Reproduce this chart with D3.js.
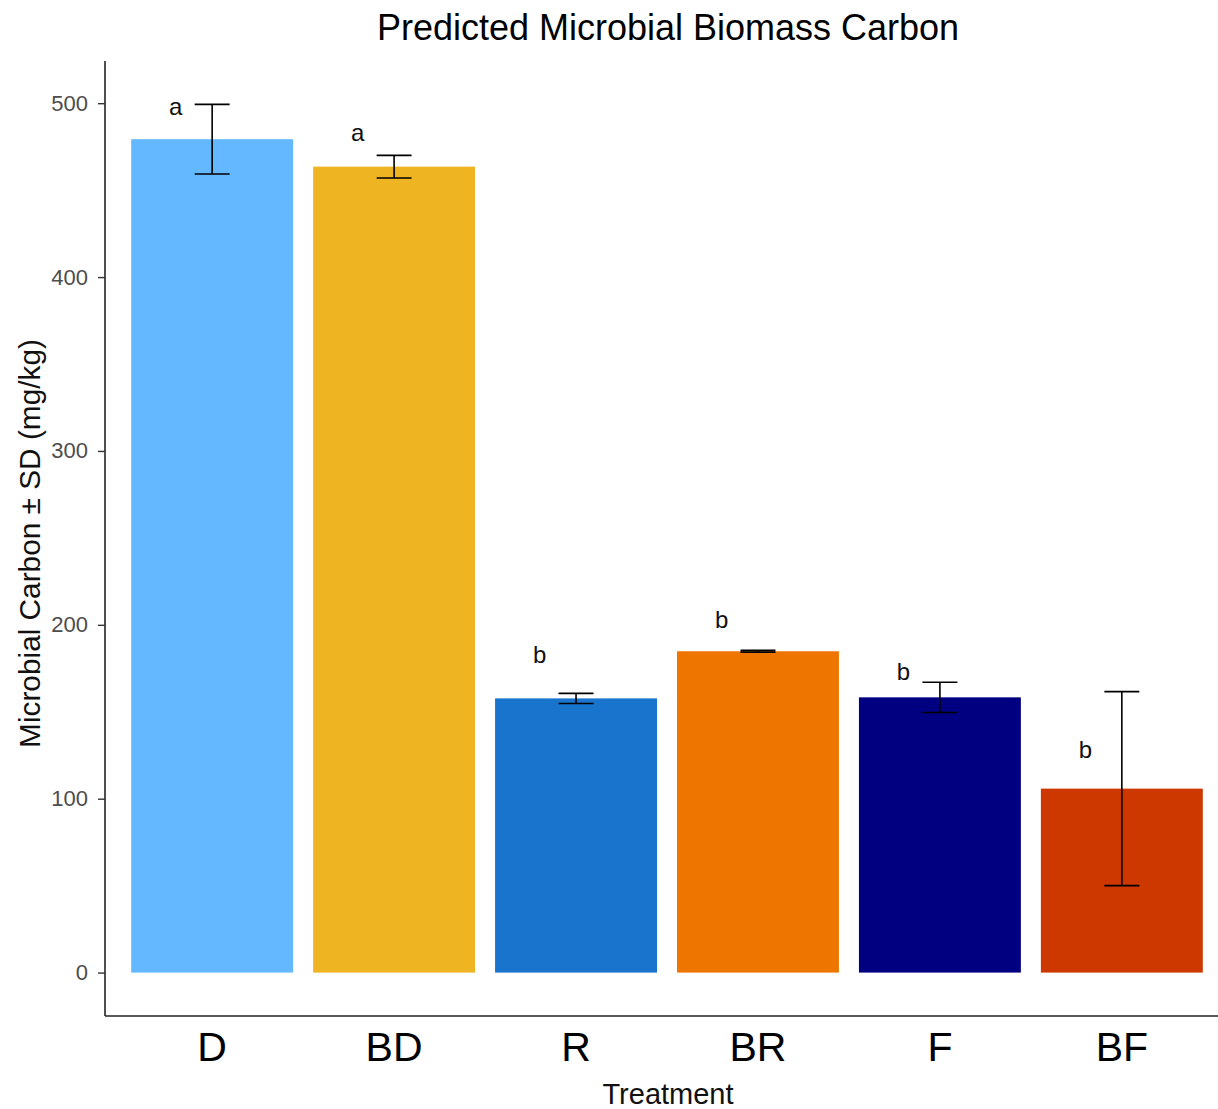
<!DOCTYPE html>
<html>
<head>
<meta charset="utf-8">
<script src="https://cdn.jsdelivr.net/npm/d3@7"></script>
<style>
	body { margin: 0; background: #fff; }
	text { font-family: "Liberation Sans", Arial, sans-serif; }
</style>
</head>
<body>
<svg id="chart"></svg>
<script>
// Values
var treatments = ['D', 'BD', 'R', 'BR', 'F', 'BF'];
var means = [479.3, 463.5, 157.7, 184.8, 158.3, 105.8];
var sds = [20.0, 6.5, 2.9, 0.5, 8.7, 55.8];
var letters = ['a', 'a', 'b', 'b', 'b', 'b'];
var letterY = [498, 483, 183, 203, 173, 128];
var colors = ['#63B8FF', '#EEB422', '#1874CD', '#EE7600', '#000080', '#CD3700'];
var yTicks = [0, 100, 200, 300, 400, 500];

var width = 1218, height = 1109;
var mLeft = 105, mRight = 1231, mTop = 61, mBottom = 1016;

var svg = d3.select('#chart')
	.attr('width', width)
	.attr('height', height);

var x = d3.scaleBand()
	.domain(treatments)
	.range([mLeft - 2, mRight])
	.paddingInner(0.11)
	.paddingOuter(0.155);

// ggplot style 5% expansion round the data
var yMax = d3.max(means.map(function(m, i) { return m + sds[i]; }));
var pad = yMax * 0.05;
var y = d3.scaleLinear()
	.domain([-pad, yMax + pad])
	.range([mBottom, mTop]);

var data = treatments.map(function(t, i) {
	return { name: t, mean: means[i], sd: sds[i], letter: letters[i], ly: letterY[i], color: colors[i] };
});

// bars
svg.selectAll('.bar').data(data)
	.enter()
	.append('rect')
	.attr('class', 'bar')
	.attr('x', function(d) { return x(d.name); })
	.attr('width', x.bandwidth())
	.attr('y', function(d) { return y(d.mean); })
	.attr('height', function(d) { return y(0) - y(d.mean); })
	.attr('fill', function(d) { return d.color; });

// error bars
var capW = x.bandwidth() * 0.216;
var err = svg.selectAll('.err').data(data)
	.enter()
	.append('g')
	.attr('class', 'err')
	.attr('stroke', '#000')
	.attr('stroke-width', 1.6)
	.attr('transform', function(d) {
		return 'translate(' + (x(d.name) + x.bandwidth() / 2) + ',0)';
	});

err.append('line')
	.attr('y1', function(d) { return y(d.mean + d.sd); })
	.attr('y2', function(d) { return y(d.mean - d.sd); });
err.append('line')
	.attr('x1', -capW / 2).attr('x2', capW / 2)
	.attr('y1', function(d) { return y(d.mean + d.sd); })
	.attr('y2', function(d) { return y(d.mean + d.sd); });
err.append('line')
	.attr('x1', -capW / 2).attr('x2', capW / 2)
	.attr('y1', function(d) { return y(d.mean - d.sd); })
	.attr('y2', function(d) { return y(d.mean - d.sd); });

// significance letters, nudged left of centre
svg.selectAll('.letter').data(data)
	.enter()
	.append('text')
	.attr('class', 'letter')
	.attr('x', function(d) { return x(d.name) + x.bandwidth() / 2 - x.step() * 0.2; })
	.attr('y', function(d) { return y(d.ly); })
	.attr('dy', '0.35em')
	.attr('text-anchor', 'middle')
	.attr('font-size', 24)
	.attr('fill', '#111')
	.text(function(d) { return d.letter; });

// y axis
var yAxis = svg.append('g')
	.attr('transform', 'translate(' + mLeft + ',0)')
	.call(d3.axisLeft(y).tickValues(yTicks).tickSize(7).tickPadding(10));
yAxis.select('.domain').attr('d', 'M0,' + mTop + 'V' + mBottom).attr('stroke', '#222').attr('stroke-width', 1.6);
yAxis.selectAll('.tick line').attr('stroke', '#333').attr('stroke-width', 1.4);
yAxis.selectAll('.tick text').attr('font-size', 22).attr('fill', '#4D4D4D')
	.style('font-family', '"Liberation Sans", Arial, sans-serif');

// x axis
var xAxis = svg.append('g')
	.attr('transform', 'translate(0,' + mBottom + ')')
	.call(d3.axisBottom(x).tickSize(0).tickPadding(16));
xAxis.select('.domain').attr('d', 'M' + mLeft + ',0H' + width).attr('stroke', '#222').attr('stroke-width', 1.6);
xAxis.selectAll('.tick text').attr('font-size', 41).attr('fill', '#000')
	.attr('dy', '0.71em')
	.style('font-family', '"Liberation Sans", Arial, sans-serif');

// titles
svg.append('text')
	.attr('x', (mLeft + mRight) / 2)
	.attr('y', 40)
	.attr('text-anchor', 'middle')
	.attr('font-size', 36)
	.attr('fill', '#000')
	.text('Predicted Microbial Biomass Carbon');

svg.append('text')
	.attr('x', (mLeft + mRight) / 2)
	.attr('y', 1104)
	.attr('text-anchor', 'middle')
	.attr('font-size', 29)
	.attr('fill', '#111')
	.text('Treatment');

svg.append('text')
	.attr('transform', 'translate(40,' + ((mTop + mBottom) / 2 + 5) + ') rotate(-90)')
	.attr('text-anchor', 'middle')
	.attr('font-size', 29.8)
	.attr('fill', '#111')
	.text('Microbial Carbon ± SD (mg/kg)');
</script>
</body>
</html>
